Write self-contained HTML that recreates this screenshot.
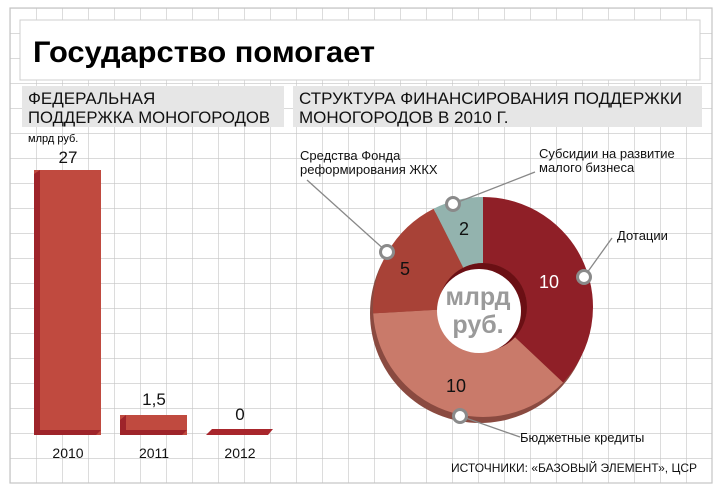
<!DOCTYPE html>
<html><head><meta charset="utf-8"><style>
body{margin:0;background:#fff}
svg{display:block;font-family:"Liberation Sans",sans-serif}
</style></head><body>
<svg width="721" height="490" viewBox="0 0 721 490" xmlns="http://www.w3.org/2000/svg">
<defs>
<pattern id="g" x="10" y="8" width="26" height="25" patternUnits="userSpaceOnUse">
<path d="M0 0V25M0 0H26" stroke="#c4c4c4" stroke-width="1.2" fill="none"/>
</pattern>
</defs>
<rect x="10" y="8" width="702" height="475" fill="url(#g)"/>
<rect x="10" y="8" width="702" height="475" fill="none" stroke="#c4c4c4" stroke-width="1.2"/>
<rect x="20" y="20" width="680" height="60" fill="#fff" stroke="#cfcfcf"/>
<text x="33" y="62" font-size="30" font-weight="bold" fill="#000" textLength="342" lengthAdjust="spacingAndGlyphs">Государство помогает</text>
<rect x="22" y="86" width="262" height="41" fill="#e6e6e6"/>
<rect x="293" y="86" width="409" height="41" fill="#e6e6e6"/>
<g font-size="17" fill="#111">
<text x="28" y="104">ФЕДЕРАЛЬНАЯ</text><text x="28" y="123" textLength="242" lengthAdjust="spacingAndGlyphs">ПОДДЕРЖКА МОНОГОРОДОВ</text>
<text x="299" y="104" textLength="383" lengthAdjust="spacingAndGlyphs">СТРУКТУРА ФИНАНСИРОВАНИЯ ПОДДЕРЖКИ</text><text x="299" y="123">МОНОГОРОДОВ В 2010 Г.</text>
</g>
<text x="28" y="142" font-size="11">млрд руб.</text>
<rect x="34" y="170" width="67" height="265" fill="#c04a3f"/>
<polygon points="34,174 40,170 40,431 34,435" fill="#9e242a"/>
<polygon points="34,435 40,430 101,430 96,435" fill="#9e242a"/>
<rect x="120" y="415" width="67" height="20" fill="#c04a3f"/>
<polygon points="120,420 126,415 126,431 120,435" fill="#9e242a"/>
<polygon points="120,435 126,430 187,430 182,435" fill="#9e242a"/>
<polygon points="206,435 212,429 273,429 268,435" fill="#a8262c"/>
<g font-size="17" text-anchor="middle" fill="#111">
<text x="68" y="163">27</text><text x="154" y="405">1,5</text><text x="240" y="420">0</text>
</g>
<g font-size="14" text-anchor="middle" fill="#111">
<text x="68" y="458">2010</text><text x="154" y="458">2011</text><text x="240" y="458">2012</text>
</g>
<ellipse cx="480" cy="313" rx="110" ry="110" fill="#8a4a40"/>
<path d="M483 197A110 110 0 0 1 563 382.5L515 337.2A44 44 0 0 0 483 263Z" fill="#8f1f27"/>
<path d="M563 382.5A110 110 0 0 1 373.2 313.4L439.1 309.6A44 44 0 0 0 515 337.2Z" fill="#c97a6a"/>
<path d="M373.2 313.4A110 110 0 0 1 433.6 208.7L463.3 267.7A44 44 0 0 0 439.1 309.6Z" fill="#a84237"/>
<path d="M433.6 208.7A110 110 0 0 1 483 197L483 263A44 44 0 0 0 463.3 267.7Z" fill="#93b3ae"/>
<circle cx="483" cy="307" r="44" fill="#6b0f14"/>
<circle cx="479" cy="311" r="42" fill="#fff"/>
<g font-size="25" font-weight="bold" fill="#9a9a9a" text-anchor="middle">
<text x="478" y="305">млрд</text><text x="478" y="333">руб.</text>
</g>
<g font-size="18" text-anchor="middle">
<text x="549" y="288" fill="#fff">10</text>
<text x="456" y="392" fill="#111">10</text>
<text x="405" y="275" fill="#111">5</text>
<text x="464" y="235" fill="#111">2</text>
</g>
<g stroke="#888" stroke-width="1.3" fill="none">
<line x1="453" y1="204" x2="535" y2="172"/>
<line x1="387" y1="252" x2="307" y2="180"/>
<line x1="584" y1="277" x2="612" y2="238"/>
<line x1="460" y1="416" x2="520" y2="437"/>
</g>
<g fill="#fff" stroke="#8a8a8a" stroke-width="3">
<circle cx="453" cy="204" r="6.5"/><circle cx="387" cy="252" r="6.5"/>
<circle cx="584" cy="277" r="6.5"/><circle cx="460" cy="416" r="6.5"/>
</g>
<g font-size="13" fill="#111">
<text x="300" y="160">Средства Фонда</text><text x="300" y="174">реформирования ЖКХ</text>
<text x="539" y="158">Субсидии на развитие</text><text x="539" y="172">малого бизнеса</text>
<text x="617" y="240">Дотации</text>
<text x="520" y="442">Бюджетные кредиты</text>
</g>
<text x="697" y="472" font-size="12" text-anchor="end" fill="#111">ИСТОЧНИКИ: «БАЗОВЫЙ ЭЛЕМЕНТ», ЦСР</text>
</svg>
</body></html>
